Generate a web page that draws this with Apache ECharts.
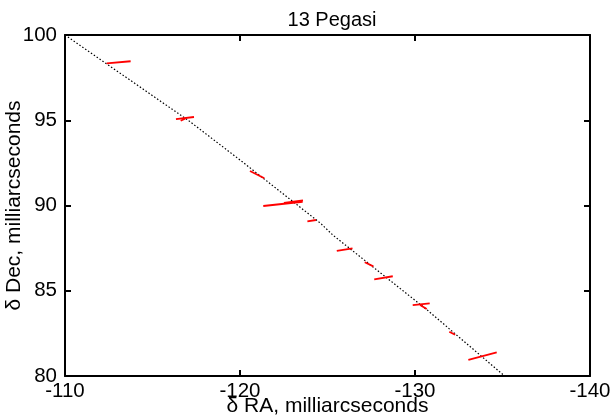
<!DOCTYPE html>
<html><head><meta charset="utf-8">
<script src="https://cdn.jsdelivr.net/npm/echarts@6/dist/echarts.min.js"></script>
<style>html,body{margin:0;padding:0;background:#fff}#c{width:611px;height:417px}</style>
</head><body><div id="c"></div>
<script>
const titleText = '13 Pegasi';
const xName = 'δ RA, milliarcseconds';
const yName = 'δ Dec, milliarcseconds';

// dotted orbit curve
const orbitRA  = [-110, -117.1, -120, -124.6, -125.3, -130.7, -135.05];
const orbitDec = [100, 94.95, 92.67, 88.96, 88.27, 83.87, 80.06];

// red error segments: start and end points
const segRA1  = [-112.38, -116.34, -116.61, -120.57, -121.33, -122.51, -123.85, -125.53, -127.13, -127.67, -129.87, -130.29, -131.96, -133.05];
const segDec1 = [98.34, 95.07, 94.97, 92.02, 89.97, 90.16, 89.07, 87.34, 86.67, 85.67, 84.16, 84.16, 82.60, 80.94];
const segRA2  = [-113.75, -117.37, -116.86, -121.39, -123.58, -123.60, -124.34, -126.43, -127.62, -128.73, -130.84, -130.67, -132.29, -134.67];
const segDec2 = [98.46, 95.19, 95.09, 91.60, 90.22, 90.30, 89.15, 87.49, 86.43, 85.85, 84.26, 83.93, 82.42, 81.39];

const font = 'Liberation Sans, Arial, sans-serif';
const chart = echarts.init(document.getElementById('c'), null, {renderer: 'canvas'});

const series = [{
  type: 'line',
  data: orbitRA.map((x, i) => [x, orbitDec[i]]),
  showSymbol: false,
  symbol: 'none',
  lineStyle: {color: '#000', width: 1.2, type: [1.5, 2]},
  silent: true,
  z: 2
}];
segRA1.forEach((x, i) => {
  series.push({
    type: 'line',
    data: [[x, segDec1[i]], [segRA2[i], segDec2[i]]],
    symbol: 'none',
    lineStyle: {color: '#ff0000', width: 1.8},
    silent: true,
    z: 3
  });
});

const axisCommon = {
  axisLine: {show: true, lineStyle: {color: '#000', width: 2}},
  axisTick: {show: true, inside: true, length: 6, lineStyle: {color: '#000', width: 2}},
  splitLine: {show: false}
};

chart.setOption({
  animation: false,
  backgroundColor: '#fff',
  title: {
    text: titleText, left: 327, textAlign: 'center', top: 5,
    textStyle: {fontFamily: font, fontSize: 20, fontWeight: 'normal', color: '#000'}
  },
  grid: {left: 65, right: 21, top: 35, bottom: 41, containLabel: false, outerBoundsMode: 'none'},
  xAxis: [
    Object.assign({
      type: 'value', position: 'bottom', inverse: true,
      min: -140, max: -110, interval: 10,
      name: xName, nameLocation: 'middle', nameGap: 20, nameMoveOverlap: false,
      nameTextStyle: {fontFamily: font, fontSize: 21, color: '#000'},
      axisLabel: {fontFamily: font, fontSize: 20.5, color: '#000', margin: 5}
    }, axisCommon),
    Object.assign({
      type: 'value', position: 'top', inverse: true,
      min: -140, max: -110, interval: 10,
      axisLabel: {show: false}
    }, axisCommon)
  ],
  yAxis: [
    Object.assign({
      type: 'value', position: 'left',
      min: 80, max: 100, interval: 5,
      name: yName, nameLocation: 'middle', nameGap: 40, nameRotate: 90, nameMoveOverlap: false,
      nameTextStyle: {fontFamily: font, fontSize: 21, color: '#000'},
      axisLabel: {fontFamily: font, fontSize: 20.5, color: '#000', margin: 8}
    }, axisCommon),
    Object.assign({
      type: 'value', position: 'right',
      min: 80, max: 100, interval: 5,
      axisLabel: {show: false}
    }, axisCommon)
  ],
  series: series
});
</script>
</body></html>
